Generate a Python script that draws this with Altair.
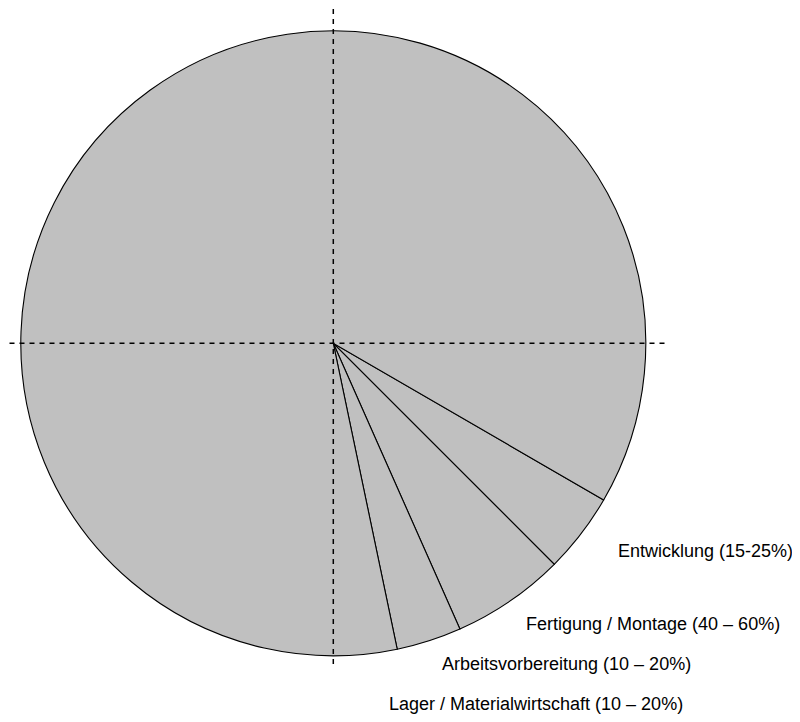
import math
import altair as alt
import pandas as pd

# Slice sizes in degrees, in drawing order
slice_names = ["Entwicklung", "Fertigung / Montage", "Arbeitsvorbereitung", "Rest"]
slice_degrees = [14.9, 21.1, 12.1, 311.9]

label_texts = [
    "Entwicklung (15-25%)",
    "Fertigung / Montage (40 – 60%)",
    "Arbeitsvorbereitung (10 – 20%)",
    "Lager / Materialwirtschaft (10 – 20%)",
]

# layout (plot coordinates = page - 8)
W, H = 784, 706
CX, CY = 325.3, 335.3
R = 312.5
START = math.radians(120.1)
label_pos = [(610, 549), (518, 622), (434, 662), (381, 702)]

df = pd.DataFrame({"name": slice_names, "deg": slice_degrees,
                   "idx": list(range(len(slice_names)))})

pie = alt.Chart(df).mark_arc(
    radius=R, fill="#c0c0c0", stroke="black", strokeWidth=1.1
).encode(
    theta=alt.Theta("deg:Q", stack=True,
                    scale=alt.Scale(domain=[0, 360], range=[START, START + 2 * math.pi])),
    order=alt.Order("idx:Q"),
    x=alt.value(CX), y=alt.value(CY),
)

dash = dict(color="black", strokeWidth=1.5, strokeDash=[5, 5])
hline = alt.Chart(df.head(1)).mark_rule(**dash).encode(
    x=alt.value(1.5), x2=alt.value(660), y=alt.value(CY))
vline = alt.Chart(df.head(1)).mark_rule(**dash).encode(
    y=alt.value(1), y2=alt.value(659), x=alt.value(CX))

layers = [pie, hline, vline]
for txt, (lx, ly) in zip(label_texts, label_pos):
    layers.append(
        alt.Chart(pd.DataFrame({"t": [txt]})).mark_text(
            align="left", baseline="alphabetic", font="Liberation Sans",
            fontSize=18, color="black"
        ).encode(text="t:N", x=alt.value(lx), y=alt.value(ly))
    )

chart = alt.layer(*layers).properties(
    width=W, height=H, padding=0, autosize=alt.AutoSizeParams(type="none")
).configure_view(stroke=None)

chart.save("out.html", embed_options={"renderer": "svg", "actions": False})
